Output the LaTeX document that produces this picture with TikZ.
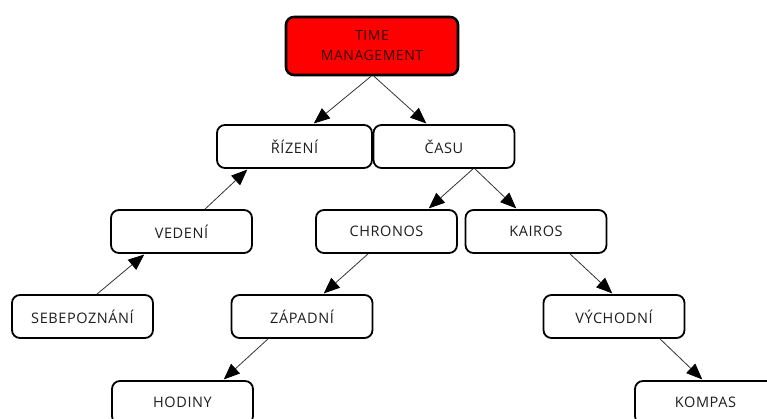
\documentclass[tikz,border=0pt]{standalone}
\usepackage{fontspec}
\setmainfont{Open Sans}[LetterSpace=4]
\usetikzlibrary{arrows.meta}
\definecolor{txt}{RGB}{30,30,30}
\definecolor{tmtxt}{RGB}{50,0,0}
\begin{document}
\begin{tikzpicture}[x=1pt,y=-1pt,
  box/.style={draw=black, line width=1.8pt, rounded corners=8pt, fill=white,
    minimum width=141pt, minimum height=43pt, inner sep=0pt, text=txt,
    font=\fontsize{14.5}{16}\selectfont},
  conn/.style={draw=black!80, line width=0.8pt, -{Triangle[length=16pt,width=13pt,color=black]}, shorten >=1pt}]
\useasboundingbox (0,0) rectangle (767,419);
\clip (0,0) rectangle (767,419);
\node[box, fill=red, line width=2.6pt, minimum width=172pt, minimum height=58pt, text=tmtxt, align=center,
  font=\fontsize{14}{20}\selectfont] (tm) at (372,46) {TIME\\MANAGEMENT};
\node[box, minimum width=155pt] (riz) at (294.5,146.5) {ŘÍZENÍ};
\node[box] (casu) at (444,146.5) {ČASU};
\node[box] (ved) at (181.5,231.5) {VEDENÍ};
\node[box] (chr) at (386.5,231.5) {CHRONOS};
\node[box] (kai) at (536,231.5) {KAIROS};
\node[box] (seb) at (82.5,316.5) {SEBEPOZNÁNÍ};
\node[box] (zap) at (302,316.5) {ZÁPADNÍ};
\node[box] (vych) at (614,316.5) {VÝCHODNÍ};
\node[box] (hod) at (182.5,402.5) {HODINY};
\node[box] (kom) at (705.5,402.5) {KOMPAS};
\draw[conn] ([xshift=-1pt]tm.south) -- ([xshift=18.5pt]riz.north);
\draw[conn] ([xshift=2pt]tm.south) -- ([xshift=-17pt]casu.north);
\draw[conn] ([xshift=23.5pt]ved.north) -- ([xshift=-46.5pt]riz.south);
\draw[conn] ([xshift=14.5pt]seb.north) -- ([xshift=-36.5pt]ved.south);
\draw[conn] ([xshift=29pt]casu.south) -- ([xshift=41.5pt]chr.north);
\draw[conn] ([xshift=31pt]casu.south) -- ([xshift=-19pt]kai.north);
\draw[conn] ([xshift=-18.5pt]chr.south) -- ([xshift=21pt]zap.north);
\draw[conn] ([xshift=-34pt]zap.south) -- ([xshift=40.5pt]hod.north);
\draw[conn] ([xshift=34pt]kai.south) -- ([xshift=-1pt]vych.north);
\draw[conn] ([xshift=46pt]vych.south) -- ([xshift=-2.5pt]kom.north);
\end{tikzpicture}
\end{document}
